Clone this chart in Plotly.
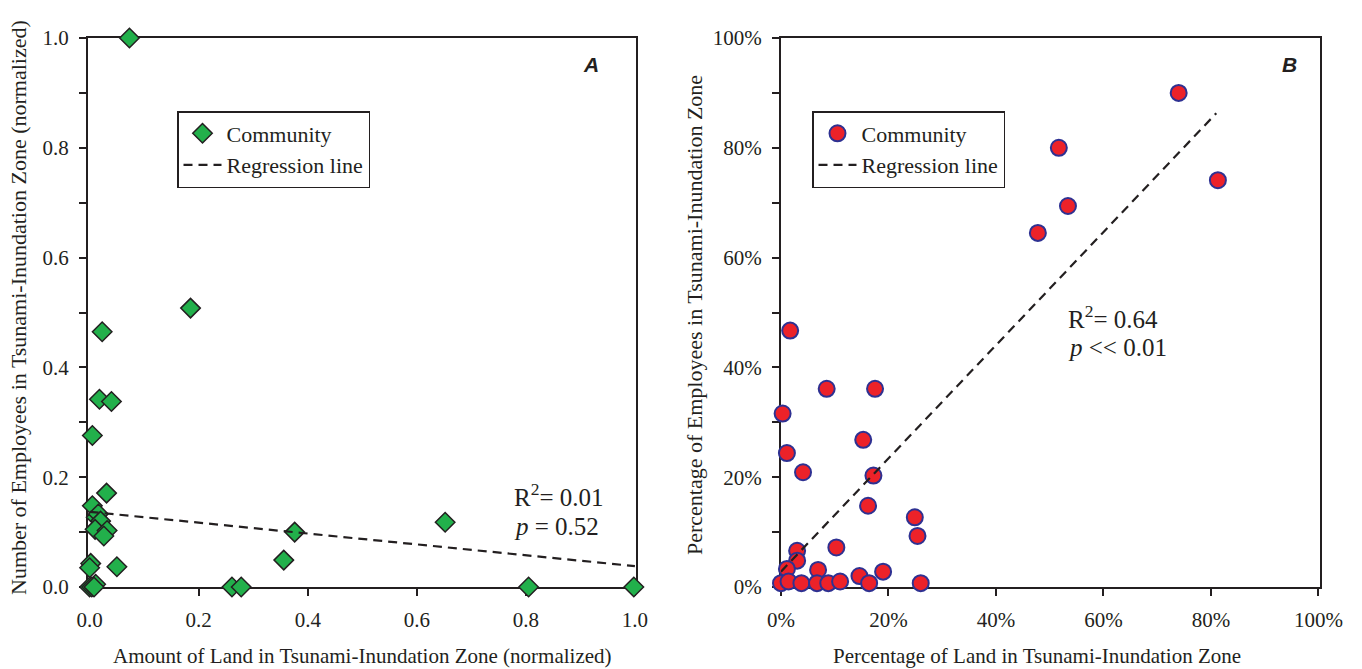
import plotly.graph_objects as go

# ---------------- Panel A data (normalized) ----------------
land_norm = [0.073, 0.185, 0.023, 0.018, 0.040, 0.005, 0.031, 0.005, 0.012, 0.016,
             0.020, 0.010, 0.032, 0.026, 0.002, 0.000, 0.050, 0.011, 0.000, 0.004,
             0.008, 0.261, 0.278, 0.356, 0.376, 0.652, 0.805, 0.998]
emp_norm = [1.000, 0.508, 0.465, 0.342, 0.338, 0.276, 0.171, 0.148, 0.127, 0.133,
            0.120, 0.105, 0.103, 0.093, 0.043, 0.035, 0.037, 0.005, 0.000, 0.000,
            0.000, 0.000, 0.000, 0.049, 0.100, 0.118, 0.000, 0.000]
regA_x = [0.0, 1.0]
regA_y = [0.137, 0.038]

# ---------------- Panel B data (percent) ----------------
land_pct = [74.0, 51.7, 81.3, 53.4, 47.8, 1.7, 8.5, 17.5, 0.3, 15.3,
            1.1, 4.1, 17.2, 16.2, 24.9, 25.4, 10.3, 3.0, 3.0, 1.1,
            6.9, 19.0, 14.6, 0.0, 1.4, 3.8, 6.7, 8.8, 11.0, 16.4, 26.0]
emp_pct = [90.0, 80.0, 74.1, 69.4, 64.5, 46.7, 36.1, 36.1, 31.6, 26.8,
           24.4, 20.9, 20.3, 14.8, 12.7, 9.3, 7.2, 6.6, 4.8, 3.3,
           3.1, 2.8, 2.0, 0.7, 1.0, 0.7, 0.7, 0.7, 1.0, 0.7, 0.7]
regB_x = [0.0, 81.0]
regB_y = [2.8, 86.3]

xticksA = [0.0, 0.2, 0.4, 0.6, 0.8, 1.0]
yticksA = [0.0, 0.2, 0.4, 0.6, 0.8, 1.0]
ticksB = [0, 20, 40, 60, 80, 100]

INK = "#231f20"
SERIF = "Liberation Serif"

fig = go.Figure()

fig.add_trace(go.Scatter(
    x=land_norm, y=emp_norm, mode="markers", name="Community",
    marker=dict(symbol="diamond", size=15, color="#22b04b",
                line=dict(color=INK, width=1.5)),
    xaxis="x", yaxis="y", legend="legend", cliponaxis=False))
fig.add_trace(go.Scatter(
    x=regA_x, y=regA_y, mode="lines", name="Regression line",
    line=dict(color=INK, width=2.2, dash="9px,6px"),
    xaxis="x", yaxis="y", legend="legend", cliponaxis=False))

fig.add_trace(go.Scatter(
    x=land_pct, y=emp_pct, mode="markers", name="Community",
    marker=dict(symbol="circle", size=16, color="#ec2229",
                line=dict(color="#2e3192", width=2)),
    xaxis="x2", yaxis="y2", legend="legend2", cliponaxis=False))
fig.add_trace(go.Scatter(
    x=regB_x, y=regB_y, mode="lines", name="Regression line",
    line=dict(color=INK, width=2.2, dash="9px,6px"),
    xaxis="x2", yaxis="y2", legend="legend2", cliponaxis=False))

axis_common = dict(showline=True, linecolor=INK, linewidth=2, mirror=True,
                   ticks="outside", ticklen=7, tickwidth=2, tickcolor=INK,
                   showgrid=False, zeroline=False, layer="below traces",
                   automargin=False, ticklabelstandoff=6,
                   tickfont=dict(family=SERIF, size=21, color=INK))

ydom = [82 / 669, 631 / 669]
legend_common = dict(y=(669 - 111) / 669, xanchor="left", yanchor="top",
                     bordercolor=INK, borderwidth=1.5, bgcolor="white",
                     itemwidth=38, tracegroupgap=0,
                     font=dict(family=SERIF, size=22, color=INK))
fig.update_layout(
    width=1362, height=669,
    margin=dict(l=0, r=0, t=0, b=0),
    paper_bgcolor="white", plot_bgcolor="white",
    font=dict(family=SERIF, color=INK),
    xaxis=dict(axis_common, domain=[88 / 1362, 636 / 1362], range=[-0.003, 1.002],
               tickvals=xticksA, ticktext=[f"{v:.1f}" for v in xticksA], anchor="y"),
    yaxis=dict(axis_common, domain=ydom, range=[0, 1],
               tickvals=yticksA, ticktext=[f"{v:.1f}" for v in yticksA], anchor="x",
               minor=dict(dtick=0.1, tick0=0, ticks="outside", ticklen=7,
                          tickwidth=2, tickcolor=INK)),
    xaxis2=dict(axis_common, domain=[781 / 1362, 1320 / 1362], range=[0, 100.3],
                tickvals=ticksB, ticktext=[f"{v}%" for v in ticksB], anchor="y2"),
    yaxis2=dict(axis_common, domain=ydom, range=[0, 100],
                tickvals=ticksB, ticktext=[f"{v}%" for v in ticksB], anchor="x2",
                minor=dict(dtick=10, tick0=0, ticks="outside", ticklen=7,
                           tickwidth=2, tickcolor=INK)),
    legend=dict(legend_common, x=177 / 1362),
    legend2=dict(legend_common, x=812 / 1362),
    showlegend=True,
)

ann = [
    dict(text="Amount of Land in Tsunami-Inundation Zone (normalized)",
         x=362 / 1362, y=(669 - 656) / 669, angle=0, size=21),
    dict(text="Percentage of Land in Tsunami-Inundation Zone",
         x=1037 / 1362, y=(669 - 656) / 669, angle=0, size=21),
    dict(text="Number of Employees in Tsunami-Inundation Zone (normalized)",
         x=18 / 1362, y=(669 - 308) / 669, angle=-90, size=22),
    dict(text="Percentage of Employees in Tsunami-Inundation Zone",
         x=694 / 1362, y=(669 - 315) / 669, angle=-90, size=22),
]
for a in ann:
    fig.add_annotation(text=a["text"], x=a["x"], y=a["y"], xref="paper", yref="paper",
                       xanchor="center", yanchor="middle", textangle=a["angle"],
                       showarrow=False, font=dict(family=SERIF, size=a["size"], color=INK))

stats = [
    ("R<sup>2</sup>= 0.01", 512, 495), ("<i>p</i> = 0.52", 512, 526),
    ("R<sup>2</sup>= 0.64", 1066, 317), ("<i>p</i> << 0.01", 1066, 348),
]
for t, px, py in stats:
    fig.add_annotation(text=t, x=px / 1362, y=(669 - py) / 669, xref="paper", yref="paper",
                       xanchor="left", yanchor="middle", showarrow=False,
                       font=dict(family=SERIF, size=25, color=INK))

for t, px in [("A", 591), ("B", 1289)]:
    fig.add_annotation(text=f"<b><i>{t}</i></b>", x=px / 1362, y=(669 - 64) / 669,
                       xref="paper", yref="paper", xanchor="center", yanchor="middle",
                       showarrow=False, font=dict(family="Liberation Sans", size=21, color=INK))

fig.write_html("out.html", config={"displayModeBar": False},
               post_script="document.body.style.margin='0';document.body.style.overflow='hidden';")
